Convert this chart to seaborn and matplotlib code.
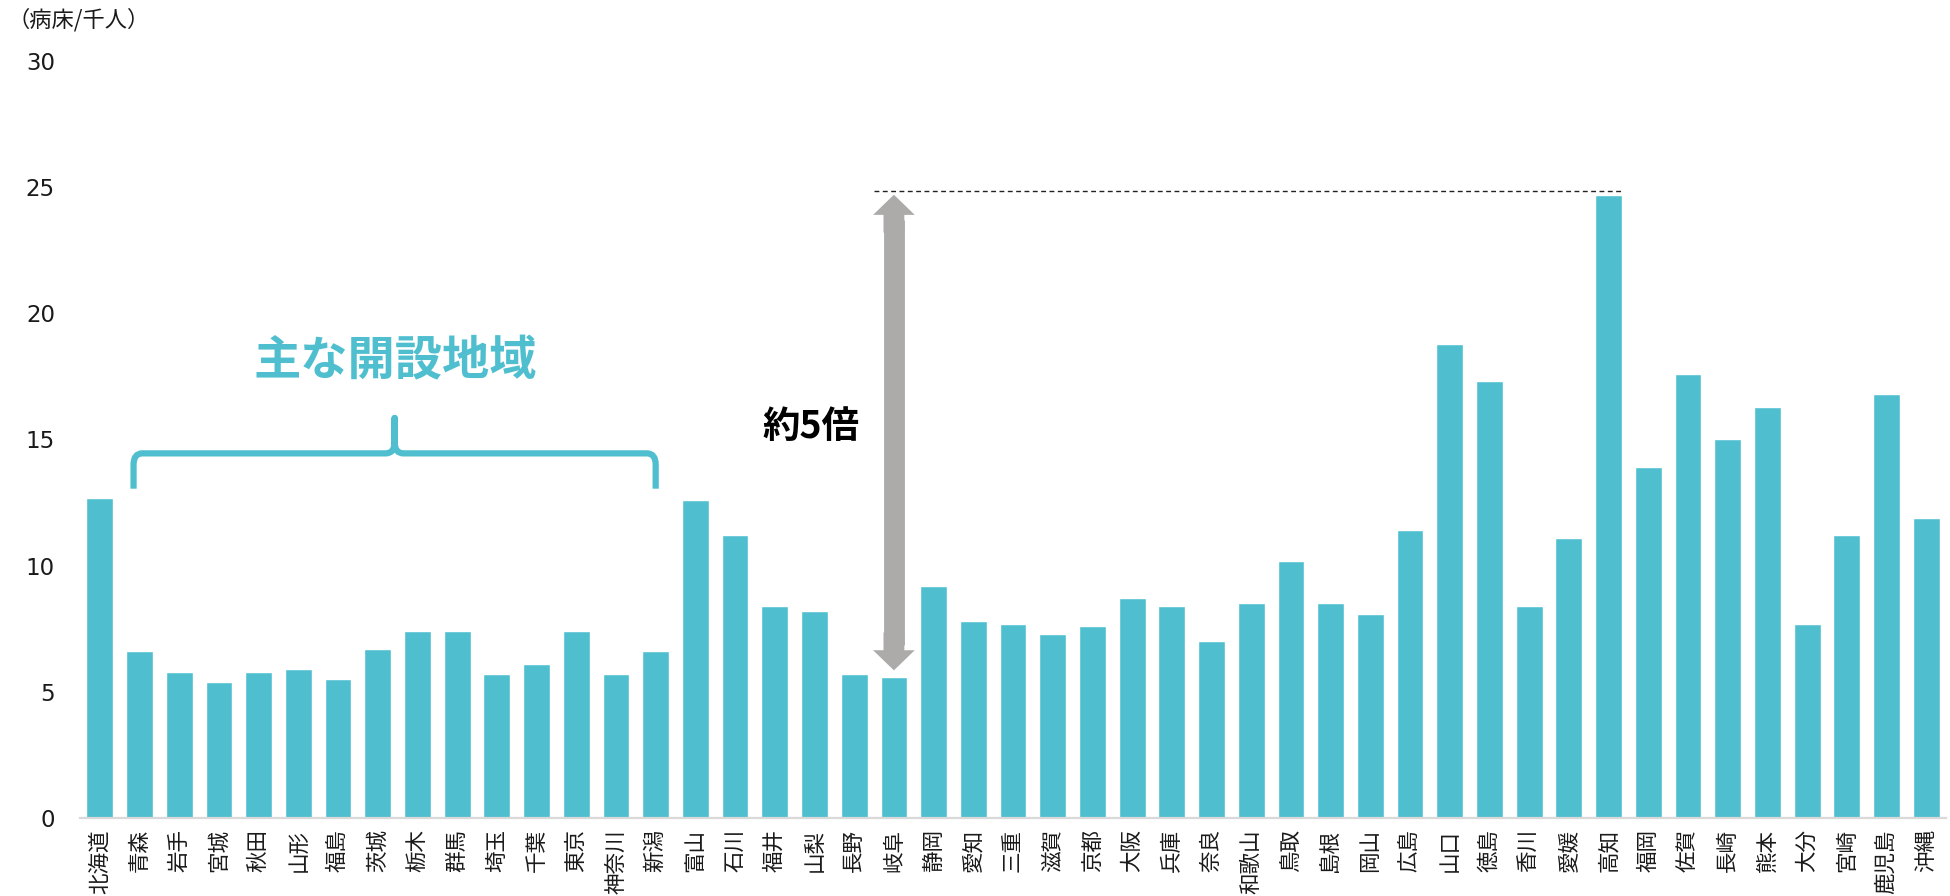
import matplotlib
matplotlib.use("Agg")
import matplotlib.pyplot as plt
from matplotlib.patches import FancyArrowPatch, PathPatch
from matplotlib.path import Path
import seaborn as sns
import pandas as pd

# Hospital beds per 1,000 people by prefecture
prefectures = [
    "北海道", "青森", "岩手", "宮城", "秋田", "山形", "福島", "茨城", "栃木", "群馬",
    "埼玉", "千葉", "東京", "神奈川", "新潟", "富山", "石川", "福井", "山梨", "長野",
    "岐阜", "静岡", "愛知", "三重", "滋賀", "京都", "大阪", "兵庫", "奈良", "和歌山",
    "鳥取", "島根", "岡山", "広島", "山口", "徳島", "香川", "愛媛", "高知", "福岡",
    "佐賀", "長崎", "熊本", "大分", "宮崎", "鹿児島", "沖縄",
]
beds_per_1000 = [
    12.7, 6.6, 5.8, 5.4, 5.8, 5.9, 5.5, 6.7, 7.4, 7.4,
    5.7, 6.1, 7.4, 5.7, 6.6, 12.6, 11.2, 8.4, 8.2, 5.7,
    5.6, 9.2, 7.8, 7.7, 7.3, 7.6, 8.7, 8.4, 7.0, 8.5,
    10.2, 8.5, 8.1, 11.4, 18.8, 17.3, 8.4, 11.1, 24.7, 13.9,
    17.6, 15.0, 16.3, 7.7, 11.2, 16.8, 11.9,
]
y_ticks = [0, 5, 10, 15, 20, 25, 30]
unit_label = "（病床/千人）"
bracket_label = "主な開設地域"
ratio_label = "約5倍"

BAR = "#4FBFCF"
GREY_ARROW = "#ADAAAA"

sns.set_theme(style="white")
plt.rcParams["font.family"] = ["DejaVu Sans", "Noto Sans CJK JP"]
CJK = ["Noto Sans CJK JP", "DejaVu Sans"]

df = pd.DataFrame({"pref": prefectures, "beds": beds_per_1000})

fig = plt.figure(figsize=(19.5, 8.96), dpi=100)
ax = fig.add_axes([0.041, 0.0871, 0.957, 0.8448])

sns.barplot(data=df, x="pref", y="beds", order=prefectures, color=BAR,
            saturation=1, width=0.675, ax=ax)

ax.set_xlim(-0.5, len(prefectures) - 0.5)
ax.set_ylim(0, 30)
ax.set_yticks(y_ticks)
ax.set_yticklabels([str(t) for t in y_ticks], fontsize=16.5, color="#1a1a1a")
ax.set_xticks(range(len(prefectures)))
ax.set_xticklabels(prefectures, family=CJK, fontsize=15.5, rotation=90,
                   rotation_mode="default", ha="center", va="top",
                   color="#1a1a1a")
ax.tick_params(axis="y", length=0, pad=18)
ax.tick_params(axis="x", length=0, pad=8)
ax.set_xlabel("")
ax.set_ylabel("")
for s in ("top", "right", "left"):
    ax.spines[s].set_visible(False)
ax.spines["bottom"].set_color("#D9D9D9")
ax.spines["bottom"].set_linewidth(1.6)
ax.grid(False)

fig.text(0.004, 1 - 20 / 896, unit_label, family=CJK, fontsize=16,
         ha="left", va="center", color="#1a1a1a")

# Range highlight: from the lowest (岐阜) to the highest (高知)
i_max = beds_per_1000.index(max(beds_per_1000))
i_low = prefectures.index("岐阜")
v_max = beds_per_1000[i_max]
v_low = beds_per_1000[i_low]

ax.hlines(v_max + 0.15, i_low - 0.5, i_max + 0.4, colors="#222222",
          linewidth=1.0, linestyles=(0, (3.5, 2.5)))

# Double-headed arrow: a thick shaft plus one filled head at each end
bottom_end = v_low + 0.25
ax.plot([i_low, i_low], [bottom_end + 1.0, v_max - 1.0], color=GREY_ARROW,
        lw=15, solid_capstyle="butt", zorder=3)
style = "simple,head_length=14.5,head_width=30,tail_width=15"
for start, end in ((v_max - 1.5, v_max), (bottom_end + 1.5, bottom_end)):
    ax.add_patch(FancyArrowPatch((i_low, start), (i_low, end), arrowstyle=style,
                                 mutation_scale=1, color=GREY_ARROW, lw=0,
                                 shrinkA=0, shrinkB=0, zorder=3))

ax.text(17.9, 15.5, ratio_label, family=CJK, fontsize=27, fontweight="bold",
        ha="center", va="center", color="black")

# Curly bracket over the main region
x0, x1 = 0.85, 14.0
xm = (x0 + x1) / 2
y_tip, y_h, y_peak = 13.05, 14.45, 15.85
rx, ry = 0.22, 0.45
verts = [
    (x0, y_tip), (x0, y_h - ry), (x0, y_h), (x0 + rx, y_h),
    (xm - rx, y_h), (xm, y_h), (xm, y_h + ry), (xm, y_peak),
    (xm, y_h + ry), (xm, y_h), (xm + rx, y_h),
    (x1 - rx, y_h), (x1, y_h), (x1, y_h - ry), (x1, y_tip),
]
codes = [
    Path.MOVETO, Path.LINETO, Path.CURVE3, Path.CURVE3,
    Path.LINETO, Path.CURVE3, Path.CURVE3, Path.LINETO,
    Path.LINETO, Path.CURVE3, Path.CURVE3,
    Path.LINETO, Path.CURVE3, Path.CURVE3, Path.LINETO,
]
ax.add_patch(PathPatch(Path(verts, codes), facecolor="none", edgecolor=BAR,
                       linewidth=4.5, joinstyle="round", capstyle="butt",
                       zorder=3))
ax.text(7.45, 18.1, bracket_label, family=CJK, fontsize=34, fontweight="bold",
        ha="center", va="center", color=BAR)

fig.savefig("out.png", dpi=100)
